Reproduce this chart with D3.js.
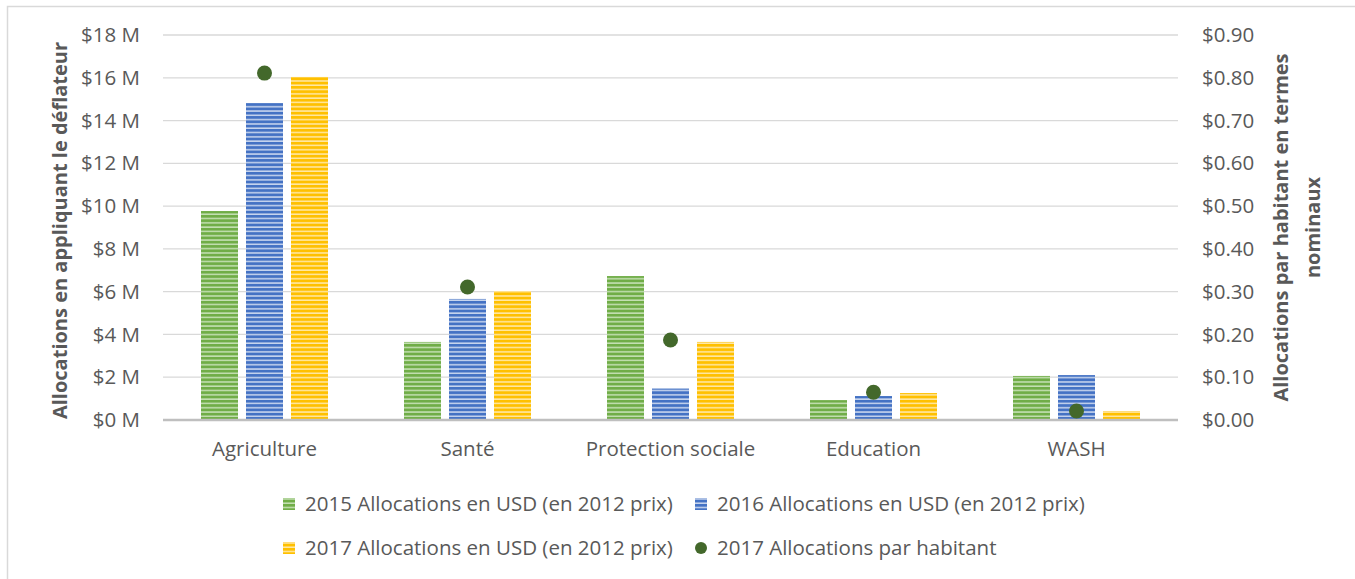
<!DOCTYPE html>
<html>
<head>
<meta charset="utf-8">
<script src="https://cdn.jsdelivr.net/npm/d3@7"></script>
<style>
  body { margin: 0; background: #fff; }
  svg { display: block; font-family: "Open Sans", sans-serif; }
</style>
</head>
<body>
<svg id="chart" width="1355" height="579"></svg>
<script>
// data
const categories = ['Agriculture', 'Santé', 'Protection sociale', 'Education', 'WASH'];
const alloc2015 = [9.77, 3.65, 6.73, 0.93, 2.06];
const alloc2016 = [14.82, 5.66, 1.47, 1.12, 2.10];
const alloc2017 = [16.04, 6.03, 3.65, 1.26, 0.42];
const perCapita2017 = [0.811, 0.311, 0.187, 0.065, 0.021];
const leftTicks = [0, 2, 4, 6, 8, 10, 12, 14, 16, 18];
const rightTicks = [0, 0.1, 0.2, 0.3, 0.4, 0.5, 0.6, 0.7, 0.8, 0.9];
const seriesNames = [
  '2015 Allocations en USD (en 2012 prix)',
  '2016 Allocations en USD (en 2012 prix)',
  '2017 Allocations en USD (en 2012 prix)',
  '2017 Allocations par habitant'
];

const colors = ['#70ad47', '#4472c4', '#ffc000'];
const lights = ['#c5e0b4', '#c9d6ee', '#ffe8a6'];
const dotColor = '#43682b';
const textColor = '#595959';
const font = '"Open Sans", sans-serif';
const labelSize = '20.5px';

const svg = d3.select('#chart');

/* chart frame */
svg.append('rect')
  .attr('x', 7.5).attr('y', 6.5)
  .attr('width', 1400).attr('height', 600)
  .attr('fill', 'none').attr('stroke', '#d9d9d9').attr('stroke-width', 1.5);

/* striped fills */
const defs = svg.append('defs');
colors.forEach((c, i) => {
  const p = defs.append('pattern')
    .attr('id', 'stripe' + i)
    .attr('patternUnits', 'userSpaceOnUse')
    .attr('width', 8).attr('height', 4.3);
  p.append('rect').attr('width', 8).attr('height', 4.3).attr('fill', lights[i]);
  p.append('rect').attr('width', 8).attr('height', 2.8).attr('fill', c);
});

const plot = {left: 163, right: 1178, top: 35, bottom: 420};

const x = d3.scaleBand()
  .domain(categories)
  .range([plot.left, plot.right]);

const y = d3.scaleLinear().domain([0, 18]).range([plot.bottom, plot.top]);
const y2 = d3.scaleLinear().domain([0, 0.9]).range([plot.bottom, plot.top]);

const barW = 37, gap = 8;
const sub = d3.scaleOrdinal()
  .domain([0, 1, 2])
  .range([-(barW + gap), 0, barW + gap]);

/* gridlines */
svg.append('g')
  .selectAll('line')
  .data(leftTicks.filter(d => d > 0))
  .join('line')
  .attr('x1', plot.left).attr('x2', plot.right)
  .attr('y1', d => y(d)).attr('y2', d => y(d))
  .attr('stroke', '#d9d9d9').attr('stroke-width', 1.3);

/* left axis */
const yAxis = d3.axisLeft(y)
  .tickValues(leftTicks)
  .tickSize(0)
  .tickPadding(23)
  .tickFormat(d => '$' + d + ' M');
svg.append('g')
  .attr('transform', `translate(${plot.left},0)`)
  .call(yAxis)
  .call(g => g.select('.domain').remove())
  .call(g => g.selectAll('text').attr('fill', textColor).style('font-size', labelSize).style('font-family', font));

/* right axis */
const y2Axis = d3.axisRight(y2)
  .tickValues(rightTicks)
  .tickSize(0)
  .tickPadding(24)
  .tickFormat(d3.format('$.2f'));
svg.append('g')
  .attr('transform', `translate(${plot.right},0)`)
  .call(y2Axis)
  .call(g => g.select('.domain').remove())
  .call(g => g.selectAll('text').attr('fill', textColor).style('font-size', labelSize).style('font-family', font));

/* bars */
const series = [alloc2015, alloc2016, alloc2017];
series.forEach((vals, si) => {
  svg.append('g')
    .selectAll('rect')
    .data(vals)
    .join('rect')
    .attr('x', (d, i) => x(categories[i]) + x.bandwidth() / 2 + sub(si) - barW / 2)
    .attr('width', barW)
    .attr('y', d => y(d))
    .attr('height', d => y(0) - y(d))
    .attr('fill', `url(#stripe${si})`);
});

/* baseline */
svg.append('line')
  .attr('x1', plot.left).attr('x2', plot.right)
  .attr('y1', y(0)).attr('y2', y(0))
  .attr('stroke', '#bfbfbf').attr('stroke-width', 2.5);

/* category labels */
svg.append('g')
  .attr('transform', `translate(0,${plot.bottom})`)
  .call(d3.axisBottom(x).tickSize(0).tickPadding(21))
  .call(g => g.select('.domain').remove())
  .call(g => g.selectAll('text').attr('fill', textColor).style('font-size', labelSize).style('font-family', font));

/* per capita dots */
svg.append('g')
  .selectAll('circle')
  .data(perCapita2017)
  .join('circle')
  .attr('cx', (d, i) => x(categories[i]) + x.bandwidth() / 2)
  .attr('cy', d => y2(d))
  .attr('r', 7.5)
  .attr('fill', dotColor);

/* axis titles */
svg.append('text')
  .attr('transform', `translate(67,${(plot.top + plot.bottom) / 2 + 3}) rotate(-90)`)
  .attr('text-anchor', 'middle')
  .attr('fill', textColor)
  .style('font-size', '20px').style('font-weight', 'bold')
  .text('Allocations en appliquant le déflateur');

const rt = svg.append('text')
  .attr('transform', `translate(1288,${(plot.top + plot.bottom) / 2}) rotate(-90)`)
  .attr('text-anchor', 'middle')
  .attr('fill', textColor)
  .style('font-size', '20px').style('font-weight', 'bold');
rt.append('tspan').attr('x', 0).attr('dy', 0).text('Allocations par habitant en termes');
rt.append('tspan').attr('x', 0).attr('dy', 32).text('nominaux');

/* legend */
const legendPos = [[283, 504], [695, 504], [283, 548], [695, 548]];
const legend = svg.append('g');
seriesNames.forEach((name, i) => {
  const [lx, ly] = legendPos[i];
  const g = legend.append('g').attr('transform', `translate(${lx},${ly})`);
  if (i < 3) {
    g.append('rect').attr('x', 0).attr('y', -6).attr('width', 12).attr('height', 12)
      .attr('fill', `url(#stripe${i})`);
  } else {
    g.append('circle').attr('cx', 6).attr('cy', 0).attr('r', 6).attr('fill', dotColor);
  }
  g.append('text')
    .attr('x', 22).attr('y', 0).attr('dy', '0.35em')
    .attr('fill', textColor)
    .style('font-size', labelSize)
    .text(name);
});
</script>
</body>
</html>
